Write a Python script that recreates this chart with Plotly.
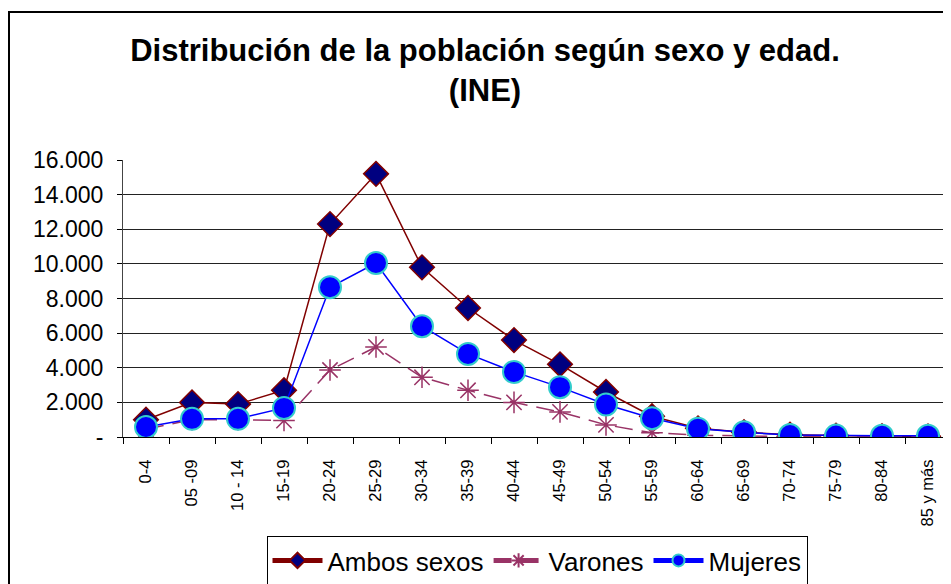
import plotly.graph_objects as go

# grupos de edad
edades = ["0-4", "05 -09", "10 - 14", "15-19", "20-24", "25-29", "30-34", "35-39", "40-44",
          "45-49", "50-54", "55-59", "60-64", "65-69", "70-74", "75-79", "80-84", "85 y más"]

ambos = [1000, 2000, 1900, 2700, 12300, 15200, 9800, 7450, 5600, 4200, 2600, 1200,
         500, 280, 130, 80, 50, 40]
varones = [450, 1000, 1000, 950, 3870, 5200, 3450, 2700, 2000, 1450, 700, 250,
           100, 50, 25, 15, 10, 10]
mujeres = [580, 1050, 1050, 1680, 8650, 10050, 6400, 4800, 3760, 2880, 1880, 1080,
           480, 270, 110, 80, 70, 70]

y_ticks = [0, 2000, 4000, 6000, 8000, 10000, 12000, 14000, 16000]
y_labels = ["-", "2.000", "4.000", "6.000", "8.000", "10.000", "12.000", "14.000", "16.000"]

FONT = "Liberation Sans, Arial, sans-serif"

# la página tiene 8px de margen: área del gráfico en coordenadas de figura x 115..943, y 152..429
L, R, T, B = 115, 943, 152, 429
W, H = 951, 584

fig = go.Figure()

fig.add_trace(
    go.Scatter(
        x=edades,
        y=ambos,
        mode="lines+markers",
        name="Ambos sexos",
        line={"color": "#800000", "width": 1.5},
        marker={"symbol": "diamond", "size": 19, "color": "#000080", "line": {"color": "#800000", "width": 1.5}},
    )
)

fig.add_trace(
    go.Scatter(
        x=edades,
        y=varones,
        mode="lines+markers",
        name="Varones",
        line={"color": "#993366", "width": 1.5, "dash": "18px,9px"},
        marker={"symbol": "asterisk-open", "size": 18, "color": "#993366", "line": {"color": "#993366", "width": 1.5}},
    )
)

fig.add_trace(
    go.Scatter(
        x=edades,
        y=mujeres,
        mode="lines+markers",
        name="Mujeres",
        line={"color": "#0000FF", "width": 1.5},
        marker={"symbol": "circle", "size": 22, "color": "#0000FF", "line": {"color": "#33CCCC", "width": 2}},
    )
)

# marco exterior del gráfico
fig.add_shape(
    type="rect",
    xref="paper",
    yref="paper",
    x0=(1 - L) / (R - L),
    x1=1.05,
    y0=-0.7,
    y1=1 + (T - 4) / (B - T),
    line={"color": "black", "width": 2},
    fillcolor="rgba(0,0,0,0)",
    layer="below",
)

fig.update_layout(
    width=W,
    height=H,
    margin={"l": L, "r": W - R, "t": T, "b": H - B, "autoexpand": False},
    paper_bgcolor="white",
    plot_bgcolor="white",
    font={"family": FONT, "color": "black"},
    title={
        "text": "<b>Distribución de la población según sexo y edad.<br>(INE)</b>",
        "x": 477 / W,
        "xanchor": "center",
        "y": 1 - 52.5 / H,
        "yanchor": "middle",
        "font": {"size": 31, "family": FONT, "color": "black"},
    },
    showlegend=True,
    legend={
        "orientation": "h",
        "x": 0.5,
        "xanchor": "center",
        "y": (B - 528) / (B - T),
        "yanchor": "top",
        "bordercolor": "black",
        "borderwidth": 1,
        "font": {"size": 26, "family": FONT},
        "itemwidth": 50,
        "itemsizing": "constant",
        "tracegroupgap": 0,
    },
)

fig.update_xaxes(
    type="category",
    automargin=False,
    tickangle=-90,
    tickfont={"size": 16.5},
    showgrid=False,
    showline=True,
    linecolor="black",
    linewidth=1,
    ticks="outside",
    ticklen=6,
    tickcolor="black",
    tickson="boundaries",
    ticklabelstandoff=15,
    range=[-0.5, 17.5],
)

fig.update_yaxes(
    range=[0, 16000],
    automargin=False,
    tickvals=y_ticks,
    ticktext=y_labels,
    tickfont={"size": 23},
    showgrid=True,
    gridcolor="#222222",
    gridwidth=1,
    showline=True,
    linecolor="#444444",
    ticks="outside",
    ticklen=5,
    tickcolor="black",
    ticklabelstandoff=9,
    zeroline=False,
)

fig.write_html("out.html")
